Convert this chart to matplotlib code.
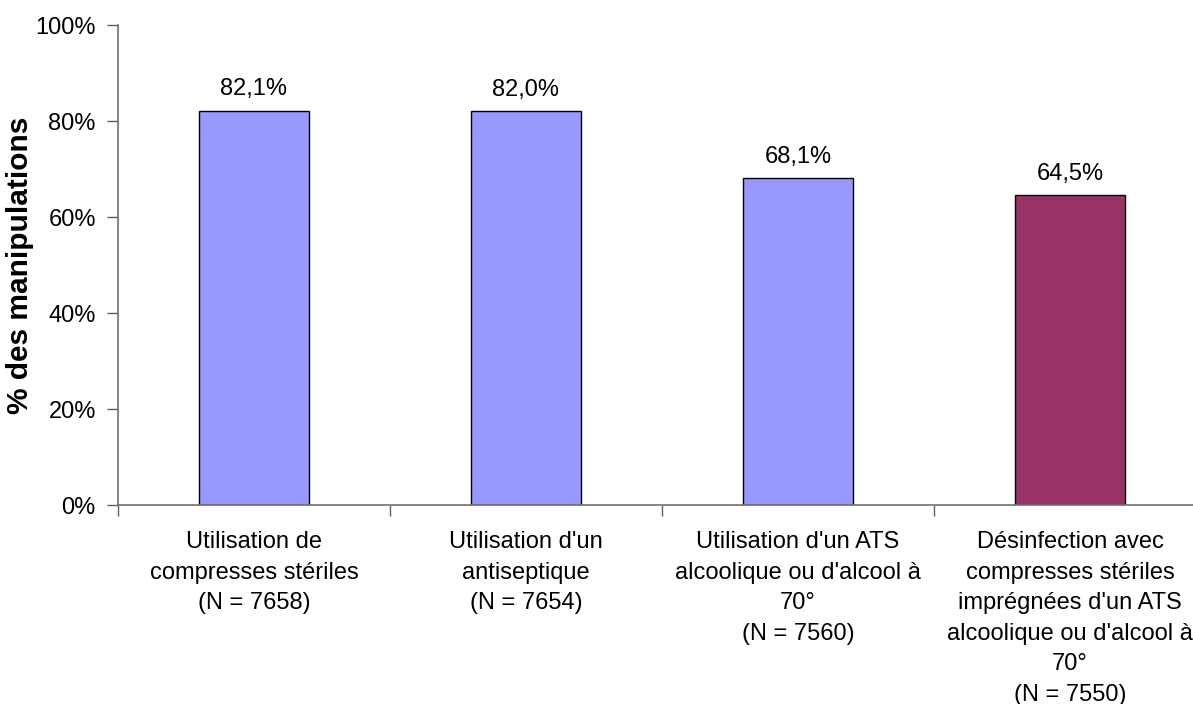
import matplotlib
matplotlib.use("Agg")
import matplotlib.pyplot as plt
import numpy as np
from matplotlib.ticker import FixedLocator, PercentFormatter

plt.rcParams['font.family'] = ['Liberation Sans', 'DejaVu Sans']

categories = [
    "Utilisation de\ncompresses stériles\n(N = 7658)",
    "Utilisation d'un\nantiseptique\n(N = 7654)",
    "Utilisation d'un ATS\nalcoolique ou d'alcool à\n70°\n(N = 7560)",
    "Désinfection avec\ncompresses stériles\nimprégnées d'un ATS\nalcoolique ou d'alcool à\n70°\n(N = 7550)",
]
values = [82.1, 82.0, 68.1, 64.5]
bar_colors = ["#9999FF", "#9999FF", "#9999FF", "#993366"]

fig = plt.figure(figsize=(11.93, 7.04), dpi=100)
# axes runs past the right edge, like the original export
ax = fig.add_axes([118 / 1193, 1 - 505 / 704, 1088 / 1193, 480 / 704])

x = np.arange(len(values))
bars = ax.bar(x, values, width=0.405, color=bar_colors, edgecolor="black", linewidth=1.0)

for xi, v in zip(x, values):
    ax.text(xi, v + 2.2, f"{v:.1f}%".replace(".", ","), ha="center", va="bottom", fontsize=17)

ax.set_xlim(-0.5, len(values) - 0.5)
ax.set_ylim(0, 100)
ax.set_yticks(np.arange(0, 101, 20))
ax.yaxis.set_major_formatter(PercentFormatter(decimals=0))

ax.set_xticks(x)
ax.set_xticklabels(categories, fontsize=17, linespacing=1.5, va="top")
ax.xaxis.set_minor_locator(FixedLocator(np.arange(-0.5, len(values), 1.0)))
ax.tick_params(axis="x", which="major", length=0, pad=19)
ax.tick_params(axis="x", which="minor", length=8, width=1, color="#606060", direction="out")
ax.tick_params(axis="y", length=8, width=1, color="#606060", labelsize=17, pad=8)

for side in ["top", "right"]:
    ax.spines[side].set_visible(False)
for side in ["left", "bottom"]:
    ax.spines[side].set_color("#707070")
    ax.spines[side].set_linewidth(1.2)

ax.set_ylabel("% des manipulations", fontsize=21.5, fontweight="bold")
ax.yaxis.set_label_coords(-0.077, 0.5)

fig.savefig("out.png", dpi=100)
